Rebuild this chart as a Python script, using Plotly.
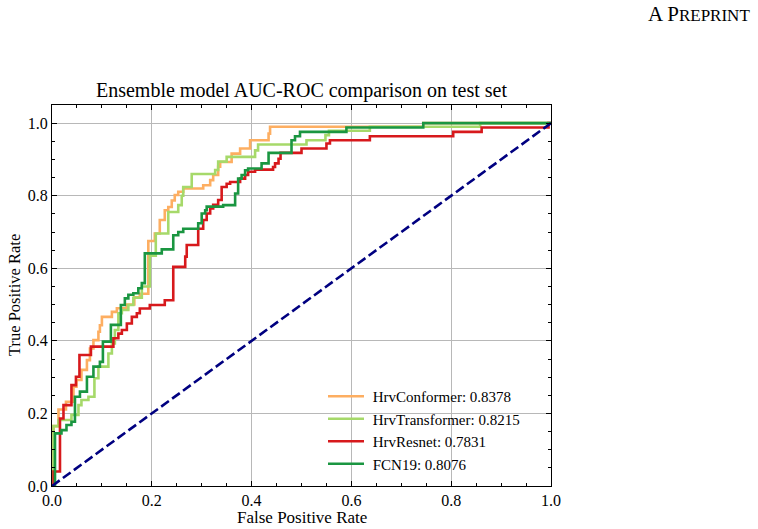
import plotly.graph_objects as go

# ---- data ----
conformer_fpr = [0, 0.003, 0.013, 0.028, 0.043, 0.049, 0.059, 0.070, 0.076, 0.083, 0.093, 0.096, 0.100,
                 0.120, 0.130, 0.150, 0.165, 0.176, 0.193, 0.206, 0.216, 0.226, 0.233, 0.240, 0.246,
                 0.253, 0.263, 0.303, 0.317, 0.323, 0.333, 0.337, 0.360, 0.377, 0.397, 0.434, 0.437,
                 0.744, 1.0]
conformer_tpr = [0, 0.165, 0.211, 0.232, 0.274, 0.292, 0.320, 0.347, 0.379, 0.402, 0.425, 0.443, 0.466,
                 0.480, 0.490, 0.500, 0.520, 0.530, 0.675, 0.696, 0.733, 0.760, 0.769, 0.787, 0.802,
                 0.811, 0.820, 0.829, 0.843, 0.857, 0.880, 0.893, 0.916, 0.930, 0.953, 0.971, 0.990,
                 1.0, 1.0]

transformer_fpr = [0, 0.003, 0.013, 0.039, 0.053, 0.059, 0.073, 0.085, 0.093, 0.113, 0.120, 0.126,
                   0.133, 0.140, 0.153, 0.163, 0.180, 0.196, 0.208, 0.233, 0.253, 0.260, 0.263,
                   0.280, 0.327, 0.333, 0.350, 0.407, 0.413, 0.510, 0.548, 0.555, 0.637, 0.858, 1.0]
transformer_tpr = [0, 0.165, 0.182, 0.196, 0.223, 0.237, 0.246, 0.297, 0.329, 0.365, 0.393, 0.430,
                   0.476, 0.485, 0.499, 0.519, 0.550, 0.635, 0.696, 0.755, 0.774, 0.800, 0.824,
                   0.860, 0.871, 0.894, 0.907, 0.925, 0.941, 0.953, 0.967, 0.979, 0.990, 1.0, 1.0]

resnet_fpr = [0, 0.003, 0.016, 0.023, 0.039, 0.048, 0.055, 0.078, 0.123, 0.133, 0.140, 0.150, 0.160,
              0.170, 0.176, 0.196, 0.226, 0.243, 0.267, 0.270, 0.293, 0.303, 0.310, 0.317, 0.323,
              0.333, 0.340, 0.350, 0.357, 0.377, 0.387, 0.393, 0.407, 0.443, 0.447, 0.454, 0.458,
              0.500, 0.550, 0.557, 0.637, 0.804, 0.861, 0.995, 1.0]
resnet_tpr = [0, 0.040, 0.186, 0.223, 0.278, 0.301, 0.361, 0.384, 0.407, 0.420, 0.430, 0.448, 0.466,
              0.476, 0.489, 0.499, 0.512, 0.604, 0.632, 0.664, 0.709, 0.733, 0.751, 0.765, 0.775,
              0.788, 0.824, 0.833, 0.838, 0.847, 0.857, 0.866, 0.872, 0.879, 0.889, 0.902, 0.918,
              0.930, 0.944, 0.953, 0.964, 0.976, 0.988, 1.0, 1.0]

fcn_fpr = [0, 0.006, 0.019, 0.029, 0.039, 0.046, 0.056, 0.070, 0.083, 0.096, 0.102, 0.118, 0.138,
           0.146, 0.153, 0.163, 0.173, 0.180, 0.186, 0.220, 0.243, 0.253, 0.263, 0.293, 0.300,
           0.307, 0.310, 0.343, 0.367, 0.373, 0.380, 0.387, 0.393, 0.420, 0.434, 0.480, 0.487,
           0.497, 0.590, 0.744, 1.0]
fcn_tpr = [0, 0.145, 0.154, 0.168, 0.177, 0.246, 0.260, 0.301, 0.329, 0.342, 0.398, 0.444, 0.499,
           0.517, 0.527, 0.531, 0.545, 0.559, 0.641, 0.652, 0.691, 0.700, 0.709, 0.724, 0.751,
           0.760, 0.770, 0.774, 0.806, 0.847, 0.857, 0.870, 0.875, 0.889, 0.918, 0.953, 0.964,
           0.976, 0.988, 1.0, 1.0]

model_names = ["HrvConformer", "HrvTransformer", "HrvResnet", "FCN19"]
model_aucs = [0.8378, 0.8215, 0.7831, 0.8076]
model_colors = ["#fdae61", "#a6d96a", "#d7191c", "#1a9641"]
chance_x = [0, 1]
chance_y = [0, 1]

xticks = [0.0, 0.2, 0.4, 0.6, 0.8, 1.0]
yticks = [0.0, 0.2, 0.4, 0.6, 0.8, 1.0]

FONT = "Liberation Serif"

fig = go.Figure()
series = [(conformer_fpr, conformer_tpr), (transformer_fpr, transformer_tpr),
          (resnet_fpr, resnet_tpr), (fcn_fpr, fcn_tpr)]
for (fx, ty), name, auc, col in zip(series, model_names, model_aucs, model_colors):
    fig.add_trace(go.Scatter(x=fx, y=ty, mode="lines", line=dict(color=col, width=2.6, shape="hv"),
                             name=f"\u00a0{name}: {auc:.4f}"))
fig.add_trace(go.Scatter(x=chance_x, y=chance_y, mode="lines", showlegend=False,
                         line=dict(color="#000080", width=2.6, dash="9.5px,4px")))

axis_common = dict(showline=True, linecolor="black", linewidth=1, mirror="allticks",
                   ticks="inside", ticklen=5, tickwidth=1, tickcolor="black",
                   showgrid=True, gridcolor="#b8b8b8", gridwidth=1, zeroline=False,
                   tickfont=dict(family=FONT, size=16, color="black"),
                   minor=dict(ticks="inside", ticklen=3, tickwidth=0.8, tickcolor="black", dtick=0.05,
                              showgrid=False))

fig.update_xaxes(range=[0, 1], tickvals=xticks, ticktext=[f"{v:.1f}" for v in xticks], **axis_common)
fig.update_yaxes(range=[0, 1.05], tickvals=yticks, ticktext=[f"{v:.1f}" for v in yticks], **axis_common)

fig.update_layout(
    width=758, height=529,
    margin=dict(l=52, r=207, t=105, b=43),
    paper_bgcolor="white", plot_bgcolor="white",
    font=dict(family=FONT, color="black"),
    title=dict(text="Ensemble model AUC-ROC comparison on test set", x=0.5, xref="paper", xanchor="center",
               y=1 - 90 / 529, yref="container", yanchor="middle",
               font=dict(family=FONT, size=20, color="black")),
    legend=dict(x=(323 - 52) / 499, xanchor="left", y=(486 - 480) / 381, yanchor="bottom",
                bgcolor="rgba(255,255,255,0)", borderwidth=0,
                font=dict(family=FONT, size=15, color="black"), itemwidth=36, tracegroupgap=0),
    showlegend=True,
)

fig.add_annotation(text="False Positive Rate", x=0.5, xref="paper", y=(486 - 517) / 381, yref="paper",
                   xanchor="center", yanchor="middle", showarrow=False,
                   font=dict(family=FONT, size=17, color="black"))
fig.add_annotation(text="True Positive Rate", x=(14 - 52) / 499, xref="paper", y=(486 - 295) / 381,
                   yref="paper", xanchor="center", yanchor="middle", textangle=-90, showarrow=False,
                   font=dict(family=FONT, size=16.5, color="black"))
fig.add_annotation(text='A P<span style="font-size:17px">REPRINT</span>', x=(752 - 52) / 499, xref="paper",
                   y=(486 - 14) / 381, yref="paper", xanchor="right", yanchor="middle", showarrow=False,
                   font=dict(family=FONT, size=21, color="black"))

fig.write_html("out.html")
